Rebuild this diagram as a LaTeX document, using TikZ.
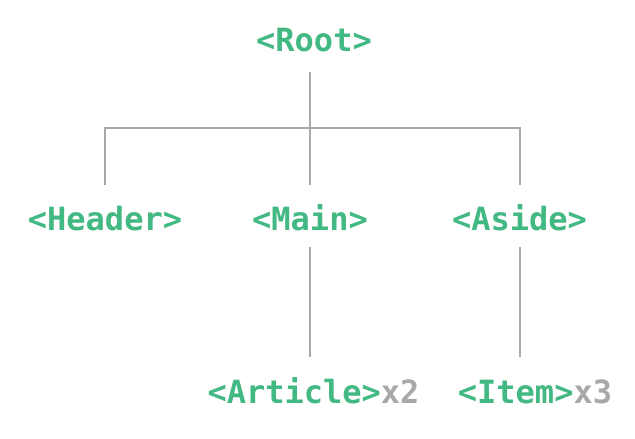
\documentclass[tikz,border=0pt]{standalone}
\usepackage{fontspec}
\setmonofont{DejaVu Sans Mono}
\definecolor{vgreen}{HTML}{42B883}
\definecolor{vgray}{HTML}{A8A8A8}
\begin{document}
\begin{tikzpicture}[x=1pt,y=-1pt,
  comp/.style={font=\ttfamily\bfseries\fontsize{32}{36}\selectfont, text=vgreen, inner sep=0pt, text height=23pt, text depth=0pt, anchor=base},
  link/.style={draw=vgray, line width=2pt}]
\useasboundingbox[fill=white] (0,0) rectangle (635,439);
\node[comp] (root) at (314,51) {<Root>};
\node[comp] (header) at (105,230) {<Header>};
\node[comp] (main) at (310,230) {<Main>};
\node[comp] (aside) at (519.5,230) {<Aside>};
\node[comp] (article) at (313.5,403) {<Article>\textcolor{vgray}{x2}};
\node[comp] (item) at (535,403) {<Item>\textcolor{vgray}{x3}};
\coordinate (j) at (310,128);
\draw[link] ([yshift=-21pt]root.south -| j) -- (j);
\draw[link] ([yshift=22pt]header.north) -- (header.north |- j) -- (aside.north |- j) -- ([yshift=22pt]aside.north);
\draw[link] (j) -- ([yshift=22pt]main.north);
\draw[link] ([yshift=-17pt]main.south) -- ([yshift=23pt]main.south |- article.north);
\draw[link] ([yshift=-17pt]aside.south) -- ([yshift=23pt]aside.south |- item.north);
\end{tikzpicture}
\end{document}
